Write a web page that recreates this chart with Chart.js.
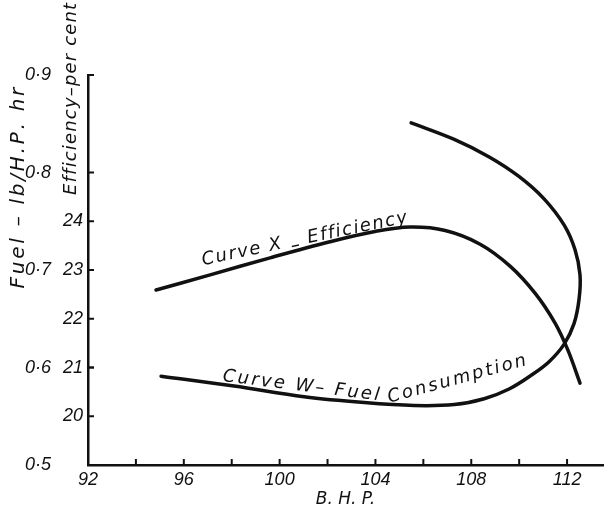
<!DOCTYPE html>
<html>
<head>
<meta charset="utf-8">
<script src="https://cdn.jsdelivr.net/npm/chart.js@4.4.1/dist/chart.umd.min.js"></script>
<style>
  html, body { margin: 0; padding: 0; background: #fff; }
  #wrap { width: 606px; height: 515px; }
</style>
</head>
<body>
<div id="wrap"><canvas id="chart" width="606" height="515"></canvas></div>
<script>
// Horizontal axis: brake horse-power
const bhpTicks = [92, 96, 100, 104, 108, 112];
const bhpMarks = [94, 96, 98, 100, 102, 104, 106, 108, 110, 112];

// Left axis, outer scale: fuel, lb per H.P. hour
const fuelTicks = [0.5, 0.6, 0.7, 0.8, 0.9];
const fuelTickLabels = ['0·5', '0·6', '0·7', '0·8', '0·9'];

// Left axis, inner scale: efficiency, per cent
const effTicks = [20, 21, 22, 23, 24];
const effTickLabels = ['20', '21', '22', '23', '24'];

// Curve X – efficiency against B.H.P.
const effBhp    = [94.84, 97.10, 99.60, 102.10, 103.98, 105.45, 106.91, 108.37, 109.62, 110.67, 111.50, 112.04, 112.54];
const effValues = [22.59, 22.90, 23.25, 23.58, 23.79, 23.88, 23.81, 23.53, 23.08, 22.52, 21.91, 21.35, 20.68];

// Curve W – fuel consumption against B.H.P. (the curve turns back on itself)
const fuelBhp    = [95.05, 98.10, 101.02, 103.53, 105.62, 107.29, 108.54, 109.58, 110.50, 111.25, 111.88, 112.29, 112.50, 112.54, 112.33, 111.88, 111.04, 109.99, 108.75, 107.29, 105.49];
const fuelValues = [0.591, 0.581, 0.570, 0.564, 0.561, 0.562, 0.568, 0.578, 0.592, 0.606, 0.624, 0.645, 0.670, 0.695, 0.721, 0.746, 0.773, 0.796, 0.816, 0.834, 0.851];

const INK = '#111';
const TICK_FONT = "'Liberation Sans', Arial, sans-serif";
const LETTER_FONT = "'DejaVu Sans', Verdana, sans-serif";
const tickFont = { family: TICK_FONT, size: 18, style: 'italic' };

// Writes a string letter by letter along a polyline, spreading the letters
// evenly so that the text runs from the first point to the last.
// Letters listed in `lowered` sit that many pixels below the baseline.
function textAlongPath(ctx, text, pts, font, lowered = {}) {
  ctx.font = font;
  const segs = [];
  let L = 0;
  for (let i = 1; i < pts.length; i++) {
    const dx = pts[i].x - pts[i - 1].x, dy = pts[i].y - pts[i - 1].y;
    const l = Math.hypot(dx, dy);
    segs.push({ x: pts[i - 1].x, y: pts[i - 1].y, dx, dy, l, s: L });
    L += l;
  }
  const chars = [...text];
  const widths = chars.map(c => ctx.measureText(c).width);
  const total = widths.reduce((a, b) => a + b, 0);
  const gap = chars.length > 1 ? (L - total) / (chars.length - 1) : 0;
  let s = 0;
  chars.forEach((c, i) => {
    const mid = s + widths[i] / 2;
    let seg = segs[segs.length - 1];
    for (const g of segs) { if (mid <= g.s + g.l) { seg = g; break; } }
    const t = (mid - seg.s) / seg.l;
    const px = seg.x + seg.dx * t, py = seg.y + seg.dy * t;
    ctx.save();
    ctx.translate(px, py);
    ctx.rotate(Math.atan2(seg.dy, seg.dx));
    ctx.textAlign = 'center';
    ctx.textBaseline = 'alphabetic';
    ctx.fillText(c, 0, lowered[c] || 0);
    ctx.restore();
    s += widths[i] + gap;
  });
}

// Inward tick marks, axis titles and the lettering along the curves
const handLettering = {
  id: 'handLettering',
  afterDraw(chart) {
    const { ctx, chartArea, scales } = chart;
    const x = scales.x, yEff = scales.yEff, yFuel = scales.yFuel;
    ctx.save();
    ctx.strokeStyle = INK;
    ctx.fillStyle = INK;
    ctx.lineWidth = 2;

    bhpMarks.forEach(v => {
      const px = x.getPixelForValue(v);
      ctx.beginPath();
      ctx.moveTo(px, chartArea.bottom);
      ctx.lineTo(px, chartArea.bottom - 6);
      ctx.stroke();
    });
    const yMarks = effTicks.map(v => yEff.getPixelForValue(v))
      .concat(fuelTicks.slice(1).map(v => yFuel.getPixelForValue(v)));
    yMarks.forEach(py => {
      ctx.beginPath();
      ctx.moveTo(chartArea.left, py);
      ctx.lineTo(chartArea.left + 6, py);
      ctx.stroke();
    });

    // Fuel title, reading upwards beside the fuel figures
    const fx = yFuel.left + 24;
    textAlongPath(ctx, 'Fuel – lb/H.P. hr', [
      { x: fx, y: yFuel.getPixelForValue(0.681) },
      { x: fx, y: yFuel.getPixelForValue(0.887) }
    ], `oblique 20px ${LETTER_FONT}`);
    // Efficiency title, above the efficiency figures
    const ex = yEff.left + 21;
    textAlongPath(ctx, 'Efficiency–per cent', [
      { x: ex, y: yEff.getPixelForValue(24.54) },
      { x: ex, y: yEff.getPixelForValue(28.48) }
    ], `oblique 18px ${LETTER_FONT}`);

    const curveFont = `oblique 18px ${LETTER_FONT}`;
    textAlongPath(ctx, 'Curve X – Efficiency', [
      { x: x.getPixelForValue(96.80), y: yEff.getPixelForValue(23.10) },
      { x: x.getPixelForValue(105.36), y: yEff.getPixelForValue(23.98) }
    ], curveFont, { '–': 5 });
    textAlongPath(ctx, 'Curve W– Fuel Consumption', [
      { x: x.getPixelForValue(97.60), y: yFuel.getPixelForValue(0.5862) },
      { x: x.getPixelForValue(104.69), y: yFuel.getPixelForValue(0.5646) },
      { x: x.getPixelForValue(110.33), y: yFuel.getPixelForValue(0.6026) }
    ], curveFont);
    ctx.restore();
  }
};

const curveStyle = {
  showLine: true,
  borderColor: INK,
  backgroundColor: INK,
  borderWidth: 3.5,
  borderCapStyle: 'round',
  pointRadius: 0,
  tension: 0.35,
  fill: false
};

new Chart(document.getElementById('chart').getContext('2d'), {
  type: 'scatter',
  data: {
    datasets: [
      Object.assign({
        label: 'Curve X – Efficiency',
        yAxisID: 'yEff',
        data: effBhp.map((b, i) => ({ x: b, y: effValues[i] }))
      }, curveStyle),
      Object.assign({
        label: 'Curve W – Fuel Consumption',
        yAxisID: 'yFuel',
        data: fuelBhp.map((b, i) => ({ x: b, y: fuelValues[i] }))
      }, curveStyle)
    ]
  },
  options: {
    responsive: false,
    animation: false,
    devicePixelRatio: 1,
    layout: { padding: { top: 75, right: 3, bottom: 0, left: 0 } },
    plugins: { legend: { display: false }, tooltip: { enabled: false } },
    scales: {
      x: {
        type: 'linear',
        position: 'bottom',
        min: 92,
        max: 113.5,
        afterBuildTicks: s => { s.ticks = bhpTicks.map(v => ({ value: v })); },
        afterFit: s => { s.height = 50; },
        grid: { display: true, drawOnChartArea: false, drawTicks: false },
        border: { display: true, color: INK, width: 2.5 },
        ticks: { color: INK, font: tickFont, padding: 4, maxRotation: 0, autoSkip: false,
                 callback: v => String(v) },
        title: { display: true, text: 'B. H. P.', color: INK,
                 font: { family: LETTER_FONT, size: 17, style: 'italic' }, padding: { top: 0, bottom: 5 } }
      },
      yEff: {
        type: 'linear',
        position: 'left',
        weight: 0,
        min: 19,
        max: 27,
        afterBuildTicks: s => { s.ticks = effTicks.map(v => ({ value: v })); },
        afterFit: s => { s.width = 33; },
        grid: { display: true, drawOnChartArea: false, drawTicks: false },
        border: { display: true, color: INK, width: 2.5 },
        ticks: { color: INK, font: tickFont, padding: 5,
                 callback: v => effTickLabels[effTicks.indexOf(v)] }
      },
      yFuel: {
        type: 'linear',
        position: 'left',
        weight: 1,
        min: 0.5,
        max: 0.9,
        afterBuildTicks: s => { s.ticks = fuelTicks.map(v => ({ value: v })); },
        afterFit: s => { s.width = 55; },
        grid: { display: true, drawOnChartArea: false, drawTicks: false },
        border: { display: false },
        ticks: { color: INK, font: tickFont, padding: 4,
                 callback: v => fuelTickLabels[fuelTicks.indexOf(v)] }
      }
    }
  },
  plugins: [handLettering]
});
</script>
</body>
</html>
